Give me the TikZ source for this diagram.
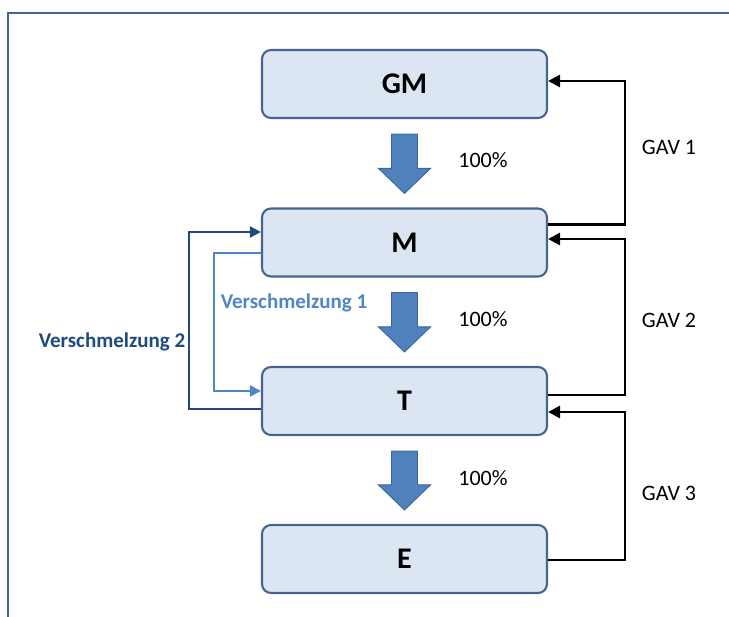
\documentclass[tikz,border=0pt]{standalone}
\usepackage{fontspec}
\setmainfont{Carlito}
\usetikzlibrary{arrows.meta,calc}
\definecolor{boxfill}{HTML}{DCE6F2}
\definecolor{boxline}{HTML}{45648F}
\definecolor{arrfill}{HTML}{4F81BD}
\definecolor{arrline}{HTML}{3C6699}
\definecolor{vdark}{HTML}{1F4A7E}
\definecolor{vlight}{HTML}{4F86C6}
\definecolor{frameblue}{HTML}{45648F}
\tikzset{
  stage/.style={draw=boxline, line width=2.1pt, fill=boxfill, rounded corners=9pt,
    minimum width=285pt, minimum height=68pt, inner sep=0pt,
    font=\fontsize{30}{36}\selectfont\bfseries},
  barrow/.style={fill=arrfill, draw=arrline, line width=0.9pt, line join=miter},
  gav/.style={draw=black, line width=2.8pt, -{Triangle[length=12pt,width=12pt]}},
  vtwo/.style={draw=vdark, line width=2.2pt, -{Triangle[length=11pt,width=11pt]}},
  vone/.style={draw=vlight, line width=2.2pt, -{Triangle[length=11pt,width=11pt]}},
  pct/.style={font=\fontsize{22}{26}\selectfont, inner sep=0pt},
  vlab/.style={font=\fontsize{21}{25}\selectfont\bfseries, inner sep=0pt},
}
\begin{document}
\begin{tikzpicture}[x=1pt,y=-1pt]
\useasboundingbox (0,0) rectangle (729,617);
% frame
\draw[frameblue, line width=2.6pt] (8,617) -- (8,13) -- (729,13);
% boxes
\node[stage] (GM) at (404.5,84) {GM};
\node[stage] (M)  at (404.5,242.5) {M};
\node[stage] (T)  at (404.5,401) {T};
\node[stage] (E)  at (404.5,559) {E};
% block arrows
\foreach \a/\b in {GM/M, M/T, T/E}{
  \draw[barrow] ($(\a.south)+(-13,15)$) -- ($(\a.south)+(13,15)$)
    -- ($(\b.north)+(13,-39)$) -- ($(\b.north)+(26,-39)$)
    -- ($(\b.north)+(0,-14)$) -- ($(\b.north)+(-26,-39)$)
    -- ($(\b.north)+(-13,-39)$) -- cycle;
}
% percentages
\node[pct] (p1) at (483,160) {100\%};
\node[pct] (p2) at (483,319) {100\%};
\node[pct] (p3) at (483,478) {100\%};
% GAV connectors
\draw[gav] ($(M.east)+(0,-18)$) -- ++(77,0) |- ($(GM.east)+(0,-3)$);
\draw[gav] ($(T.east)+(0,-6)$) -- ++(77,0) |- ($(M.east)+(0,-3.5)$);
\draw[gav] ($(E.east)+(0,1)$) -- ++(77,0) |- ($(T.east)+(0,11)$);
\node[pct] (g1) at (669,147) {GAV 1};
\node[pct] (g2) at (669,320) {GAV 2};
\node[pct] (g3) at (669,493) {GAV 3};
% Verschmelzung connectors
\draw[vtwo] ($(T.west)+(0,8)$) -- ++(-72,0) |- ($(M.west)+(0,-10.5)$);
\draw[vone] ($(M.west)+(0,10.5)$) -- ++(-47,0) |- ($(T.west)+(0,-10)$);
\node[vlab, text=vdark] (v2) at (112,342) {Verschmelzung 2};
\node[vlab, text=vlight] (v1) at (294,303) {Verschmelzung 1};
\end{tikzpicture}
\end{document}
